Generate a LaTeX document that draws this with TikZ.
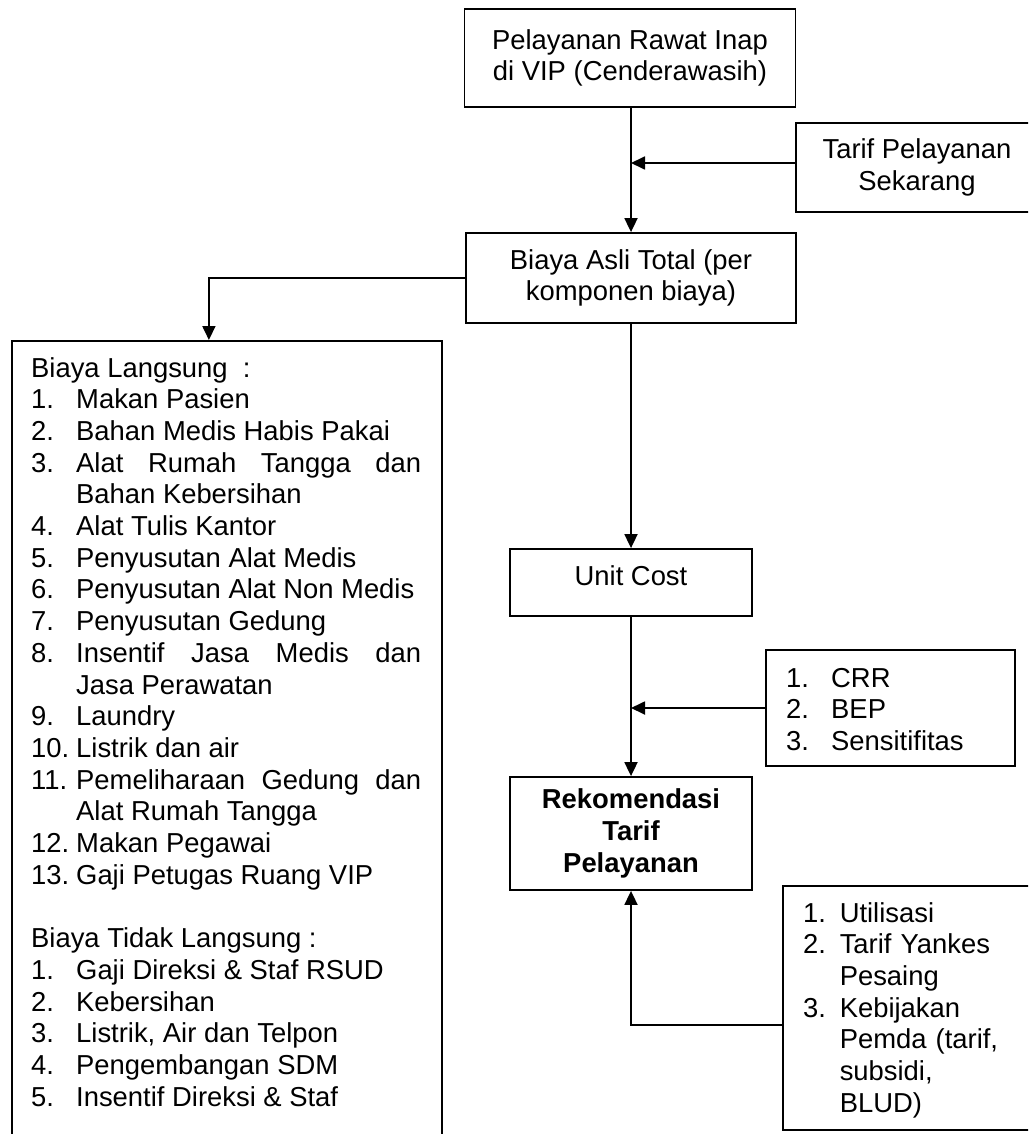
\documentclass[tikz,border=0pt]{standalone}
\usepackage{fontspec}
\setmainfont{Liberation Sans}
\usetikzlibrary{arrows.meta}
\newcommand\myfs{\fontsize{27.4pt}{31.7pt}\selectfont}
\newcommand\itm[2]{\hangindent=45pt\hangafter=1\noindent\makebox[45pt][l]{#1}#2\par}
\begin{document}
\begin{tikzpicture}[x=1pt,y=-1pt,
  box/.style={draw, line width=1.8pt, inner sep=0pt, align=center, font=\myfs},
  arr/.style={line width=1.8pt, -{Triangle[width=13pt,length=14pt]}},
  txt/.style={inner sep=0pt, font=\myfs, anchor=base west}]
\useasboundingbox (0,0) rectangle (1028,1134);
\clip (0,0) rectangle (1028,1134);
% boxes
\node[box, minimum width=331pt, minimum height=98pt] (b1) at (630,58) {Pelayanan Rawat Inap\\di VIP (Cenderawasih)};
\node[box, minimum width=242pt, minimum height=89pt] (tarif) at (917,167.5) {Tarif Pelayanan\\Sekarang};
\node[box, minimum width=330pt, minimum height=90pt] (b2) at (631,278) {Biaya Asli Total (per\\komponen biaya)};
\node[box, minimum width=242pt, minimum height=67pt, text depth=14.6pt] (uc) at (631,582.5) {Unit Cost};
\node[box, minimum width=249pt, minimum height=116pt] (crr) at (890.5,708) {};
\node[box, minimum width=242pt, minimum height=113pt, font=\myfs\bfseries] (rek) at (631,833.5) {Rekomendasi\\Tarif\\Pelayanan};
\node[box, minimum width=260pt, minimum height=244pt] (util) at (913,1008) {};
\node[box, anchor=north west, minimum width=430pt, minimum height=820pt] (lb) at (11,340) {};
% texts
\node[txt, text width=390pt, align=justify] (lbt) at (31,377) {%
Biaya Langsung\ \ :\par
\itm{1.}{Makan Pasien}
\itm{2.}{Bahan Medis Habis Pakai}
\itm{3.}{Alat Rumah Tangga dan\linebreak Bahan Kebersihan}
\itm{4.}{Alat Tulis Kantor}
\itm{5.}{Penyusutan Alat Medis}
\itm{6.}{Penyusutan Alat Non Medis}
\itm{7.}{Penyusutan Gedung}
\itm{8.}{Insentif Jasa Medis dan\linebreak Jasa Perawatan}
\itm{9.}{Laundry}
\itm{10.}{Listrik dan air}
\itm{11.}{Pemeliharaan Gedung dan\linebreak Alat Rumah Tangga}
\itm{12.}{Makan Pegawai}
\itm{13.}{Gaji Petugas Ruang VIP}
\vspace*{31.7pt}
\noindent Biaya Tidak Langsung :\par
\itm{1.}{Gaji Direksi \& Staf RSUD}
\itm{2.}{Kebersihan}
\itm{3.}{Listrik, Air dan Telpon}
\itm{4.}{Pengembangan SDM}
\itm{5.}{Insentif Direksi \& Staf}};
\node[txt, text width=229pt, align=left] (crrt) at (786,687) {\makebox[45pt][l]{1.}CRR\\\makebox[45pt][l]{2.}BEP\\\makebox[45pt][l]{3.}Sensitifitas};
\node[txt, text width=240pt, align=left] (utilt) at (803,922) {1. Utilisasi\\2. Tarif Yankes\\\phantom{2. }Pesaing\\3. Kebijakan\\\phantom{3. }Pemda (tarif,\\\phantom{3. }subsidi,\\\phantom{3. }BLUD)};
% connectors
\draw[arr] (b2.north |- b1.south) -- (b2.north);
\coordinate (tin) at ([yshift=4.5pt]tarif.west);
\draw[arr] (tin) -- (tin -| b2.north);
\draw[arr] (b2.west) -| ([xshift=-18pt]lb.north);
\draw[arr] (b2.south) -- (uc.north);
\draw[arr] (uc.south) -- (rek.north);
\draw[arr] (crr.west) -- (crr.west -| uc.south);
\coordinate (uout) at ([yshift=-17pt]util.west);
\draw[arr] (uout) -| (rek.south);
\end{tikzpicture}
\end{document}
